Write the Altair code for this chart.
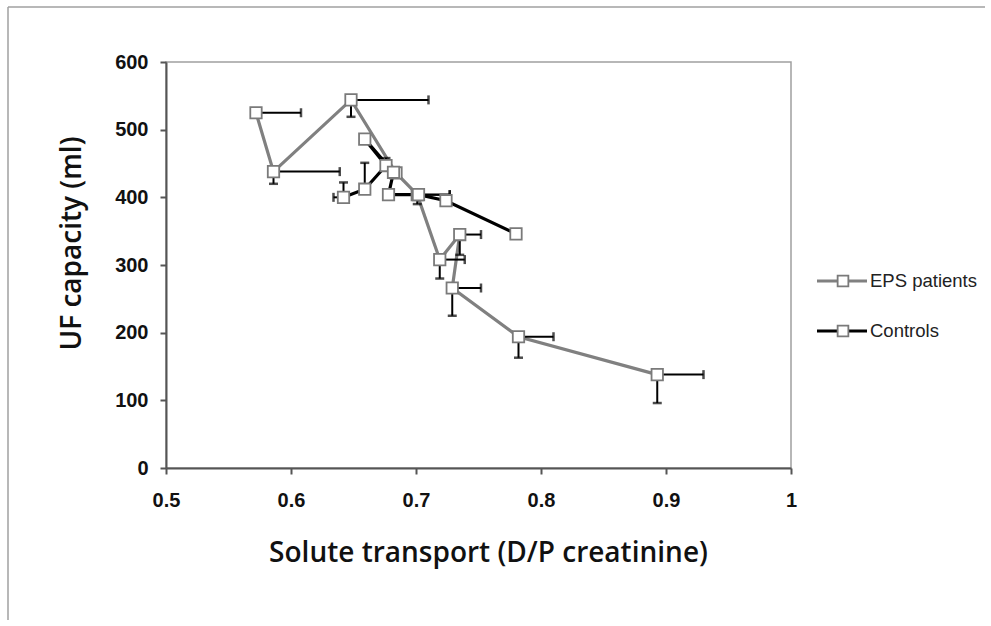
import altair as alt
import pandas as pd

# EPS patients (order of the connected line)
eps_x = [0.572, 0.586, 0.648, 0.684, 0.701, 0.719, 0.735, 0.729, 0.782, 0.893]
eps_y = [525, 438, 544, 436, 404, 308, 345, 266, 194, 138]
eps_xe = [0.608, 0.639, 0.710, None, 0.727, 0.739, 0.752, 0.752, 0.810, 0.930]
eps_ye = [None, 420, 519, None, 390, 280, 315, 225, 163, 96]

# Controls
ctl_x = [0.642, 0.659, 0.676, 0.659, 0.682, 0.678, 0.702, 0.724, 0.780]
ctl_y = [400, 412, 447, 486, 437, 404, 404, 395, 346]
ctl_xe = [0.634, None, None, None, None, None, 0.727, None, None]
ctl_ye = [422, 451, 458, None, None, None, None, None, None]

series_names = ["EPS patients", "Controls"]
series_colors = ["#808080", "#000000"]
x_ticks = [0.5, 0.6, 0.7, 0.8, 0.9, 1.0]
y_ticks = [0, 100, 200, 300, 400, 500, 600]

rows = []
for name, xs_, ys_, xes, yes in [
    ("EPS patients", eps_x, eps_y, eps_xe, eps_ye),
    ("Controls", ctl_x, ctl_y, ctl_xe, ctl_ye),
]:
    for i, (a, b, c, d) in enumerate(zip(xs_, ys_, xes, yes)):
        rows.append({"series": name, "idx": i, "x": a, "y": b, "xe": c, "ye": d})
df = pd.DataFrame(rows)

xs = alt.Scale(domain=[0.5, 1.0], nice=False, zero=False)
ys = alt.Scale(domain=[0, 600], nice=False)
col = alt.Color("series:N", scale=alt.Scale(domain=series_names, range=series_colors), legend=None)

X = alt.X("x:Q", scale=xs,
          axis=alt.Axis(values=x_ticks, format="~g", title="Solute transport (D/P creatinine)",
                        titleX=322, titleY=85, titleAnchor=None, titleBaseline="middle",
                        titleAlign="center", labelPadding=16, labelFlush=False))
Y = alt.Y("y:Q", scale=ys,
          axis=alt.Axis(values=y_ticks, title="UF capacity (ml)", titleAngle=-90,
                        titleX=-94, titleY=181, titleBaseline="middle", titleAlign="center",
                        labelPadding=12, labelFlush=False))


def xq(f):
    return alt.X(f, type="quantitative", scale=xs)


def yq(f):
    return alt.Y(f, type="quantitative", scale=ys)


base = alt.Chart(df)

lines = base.mark_line(strokeWidth=3.2).encode(x=X, y=Y, color=col, detail="series:N",
                                               order="idx:Q")

herr = base.transform_filter("isValid(datum.xe)").mark_rule(color="black", strokeWidth=2).encode(
    x=xq("x"), x2="xe:Q", y=yq("y"))
hcap = base.transform_filter("isValid(datum.xe)").mark_tick(
    orient="vertical", color="black", size=9, thickness=2.5).encode(x=xq("xe"), y=yq("y"))
verr = base.transform_filter("isValid(datum.ye)").mark_rule(color="black", strokeWidth=2).encode(
    x=xq("x"), y=yq("y"), y2="ye:Q")
vcap = base.transform_filter("isValid(datum.ye)").mark_tick(
    orient="horizontal", color="black", size=9, thickness=2.5).encode(x=xq("x"), y=yq("ye"))

pts = base.mark_point(shape="square", filled=True, fill="white", stroke="#7a7a7a",
                      strokeWidth=1.8, size=130, opacity=1).encode(x=xq("x"), y=yq("y"))

# legend (drawn manually: line with square marker)
leg_layers = []
for name, colr, ypix in zip(series_names, series_colors, [219, 269]):
    ld = alt.Chart(pd.DataFrame({"series": [name]}))
    leg_layers.append(ld.mark_rule(strokeWidth=3.2, color=colr).encode(
        x=alt.value(651), x2=alt.value(701), y=alt.value(ypix)))
    leg_layers.append(ld.mark_point(shape="square", filled=True, fill="white", stroke="#7a7a7a",
                                    strokeWidth=1.8, size=115, opacity=1).encode(
        x=alt.value(677), y=alt.value(ypix)))
    leg_layers.append(ld.mark_text(align="left", baseline="middle", font="Liberation Sans",
                                   fontSize=18.5, color="#222").encode(
        x=alt.value(704), y=alt.value(ypix), text="series:N"))

# outer frame lines (top and left)
one = alt.Chart(pd.DataFrame({"a": [0]}))
frame_top = one.mark_rule(color="#a0a0a0", strokeWidth=1.5).encode(
    x=alt.value(-158), x2=alt.value(819), y=alt.value(-55))
frame_left = one.mark_rule(color="#a0a0a0", strokeWidth=1.5).encode(
    x=alt.value(-158), y=alt.value(-55), y2=alt.value(558))

chart = alt.layer(
    frame_top, frame_left, lines, herr, hcap, verr, vcap, pts, *leg_layers
).properties(
    width=625, height=406,
    autosize=alt.AutoSizeParams(type="none"),
    padding={"left": 166, "top": 62, "right": 200, "bottom": 158},
    background="white",
).configure_view(
    stroke="#a0a0a0", strokeWidth=1.5
).configure_axis(
    grid=False,
    labelFont="Liberation Sans", labelFontWeight="bold", labelFontSize=20, labelColor="#111",
    titleFont="Open Sans", titleFontWeight=600, titleFontSize=28, titleColor="#111",
    domainColor="#555", domainWidth=2, tickColor="#555", tickWidth=2, tickSize=6,
)

chart.save("out.html", embed_options={"renderer": "svg", "actions": False})
